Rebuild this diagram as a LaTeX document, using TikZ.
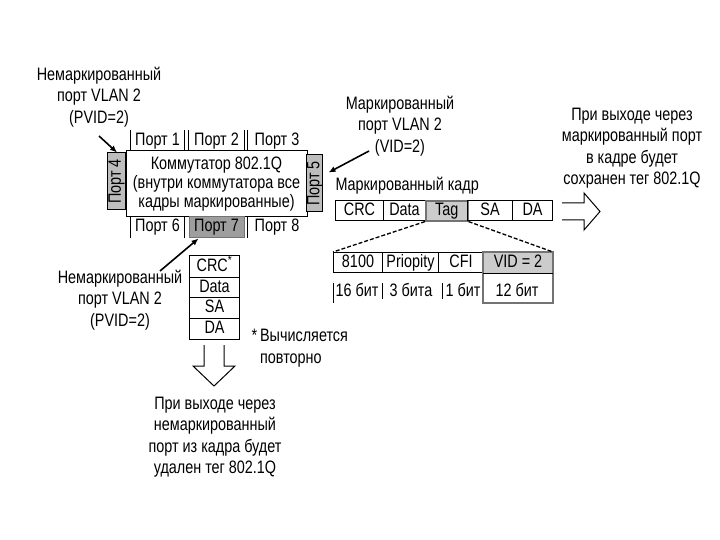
\documentclass[tikz,border=0pt]{standalone}
\usepackage{fontspec}
\setmainfont{Liberation Sans}[FakeStretch=0.8]
\usetikzlibrary{arrows.meta,calc}
\definecolor{portgray}{gray}{0.74}
\definecolor{darkport}{gray}{0.62}
\definecolor{taggray}{gray}{0.80}
\definecolor{edgegray}{gray}{0.45}
\tikzset{
  txt/.style={font=\fontsize{18}{21.5}\selectfont, inner sep=0pt, align=center},
  cell/.style={draw, line width=1pt, inner sep=0pt, font=\fontsize{18}{19}\selectfont,
               text height=12.5pt, text depth=3pt, anchor=north west},
  port/.style={inner sep=0pt, font=\fontsize{18}{19}\selectfont, text height=12.5pt, text depth=3pt,
               minimum height=20pt},
  ptr/.style={line width=1.6pt, -{Latex[length=7pt,width=6pt]}},
  hollow/.style={line width=1pt, line join=miter},
  dashln/.style={line width=1.3pt, dash pattern=on 4pt off 2pt},
}
\begin{document}
\begin{tikzpicture}[x=1pt,y=-1pt, line width=1pt]
\useasboundingbox (0,0) rectangle (720,540);

% labels
\node[txt] (lab1) at (99,97) {Немаркированный\\порт VLAN 2\\(PVID=2)};
\node[txt] (lab2) at (400,126) {Маркированный\\порт VLAN 2\\(VID=2)};
\node[txt] (lab3) at (632,148) {При выходе через\\маркированный порт\\в кадре будет\\сохранен тег 802.1Q};
\node[txt] (lab4) at (120,300) {Немаркированный\\порт VLAN 2\\(PVID=2)};
\node[txt, align=left, anchor=north west] (lab5) at (251,329) {*\,Вычисляется\\\phantom{*\,}повторно};
\node[txt] (lab6) at (215,437) {При выходе через\\немаркированный\\порт из кадра будет\\удален тег 802.1Q};
\node[txt, anchor=west] (lab7) at (335,186) {Маркированный кадр};

% switch
\node[draw, inner sep=0pt, minimum width=181pt, minimum height=66pt, align=center,
      font=\fontsize{18}{19}\selectfont] (sw) at (216.5,184)
      {Коммутатор 802.1Q\\(внутри коммутатора все\\кадры маркированные)};
\node[port, minimum width=53pt] (p1) at (157.5,141) {Порт 1};
\node[port, minimum width=55pt] (p2) at (216.5,141) {Порт 2};
\node[port, minimum width=58pt] (p3) at (277,141) {Порт 3};
\draw (p1.north west) -- (p1.south west) (p1.north east) -- (p1.south east)
      (p2.north west) -- (p2.south west) (p2.north east) -- (p2.south east)
      (p3.north west) -- (p3.south west);
\node[port, minimum width=53pt] (p6) at (157.5,227) {Порт 6};
\node[port, minimum width=55pt, fill=darkport, draw=edgegray] (p7) at (216.5,227) {Порт 7};
\node[port, minimum width=58pt] (p8) at (277,227) {Порт 8};
\draw (p6.north west) -- (p6.south west) (p6.north east) -- (p6.south east)
      (p8.north west) -- (p8.south west);
\node[port, draw, fill=portgray, rotate=90, minimum width=57pt, minimum height=18pt] (p4) at (116,181.5) {Порт 4};
\node[port, draw, fill=portgray, rotate=90, minimum width=57pt, minimum height=15pt] (p5) at (314.5,183.5) {Порт 5};

% arrows to ports
\coordinate (a1) at (99,136);
\draw[ptr] (a1) -- ([xshift=1pt]p4.east);
\coordinate (a2) at (369,151);
\draw[ptr] (a2) -- ($(p5.center)+(14,-11)$);
\coordinate (a4) at (160,271);
\draw[ptr] (a4) -- ([xshift=-18pt,yshift=-1pt]p7.south);

% tagged frame
\node[cell, minimum width=48pt, minimum height=20pt] (crc) at (335,200) {CRC};
\node[cell, minimum width=42pt, minimum height=20pt] (data) at (383,200) {Data};
\node[cell, minimum width=42pt, minimum height=20pt, fill=taggray, draw=edgegray, line width=1.6pt] (tag) at (425,200) {Tag};
\node[cell, minimum width=45pt, minimum height=20pt] (sa) at (467,200) {SA};
\node[cell, minimum width=40pt, minimum height=20pt] (da) at (512,200) {DA};

% right hollow arrow
\draw[hollow] (562,203) -- (584,203) -- (584,193) -- (600,211.5) -- (584,230) -- (584,220) -- (562,220);

% tag detail
\node[cell, minimum width=49pt, minimum height=20pt] (t1) at (333,252) {8100};
\node[cell, minimum width=56pt, minimum height=20pt] (t2) at (382,252) {Priopity};
\node[cell, minimum width=45pt, minimum height=20pt] (t3) at (438,252) {CFI};
\node[cell, minimum width=69pt, minimum height=20pt, fill=taggray, draw=none] (t4) at (483,252) {VID = 2};
\node[port] (b1) at (357,292) {16 бит};
\node[port] (b2) at (411,292) {3 бита};
\node[port] (b3) at (463,292) {1 бит};
\node[port] (b4) at (517,292) {12 бит};
\draw (t1.south west) ++(0,10) -- ++(0,20);
\draw (t2.south west) ++(0,10) -- ++(0,16);
\draw (t3.south west) ++(4,10) -- ++(0,16);
\draw[edgegray, line width=1.6pt] (t4.north west) rectangle ([yshift=-30pt]t4.south east);
\draw (t4.south west) -- (t4.south east);
\draw[dashln] (tag.south west) -- (t1.north west);
\draw[dashln] (tag.south east) -- (t4.north east);

% untagged frame stack
\node[cell, minimum width=50pt, minimum height=22pt] (u1) at (189,255) {CRC\textsuperscript{*}};
\node[cell, minimum width=50pt, minimum height=20pt] (u2) at (189,277) {Data};
\node[cell, minimum width=50pt, minimum height=21pt] (u3) at (189,297) {SA};
\node[cell, minimum width=50pt, minimum height=21pt] (u4) at (189,318) {DA};

% down hollow arrow
\draw[hollow] (204,345) -- (204,366) -- (193,366) -- (214,386) -- (235,366) -- (224,366) -- (224,345);
\end{tikzpicture}
\end{document}
